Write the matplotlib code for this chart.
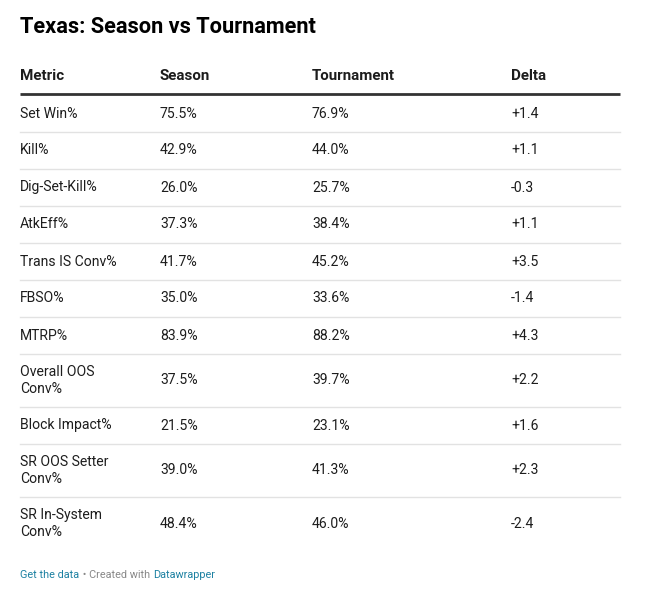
import matplotlib
matplotlib.use("Agg")
import matplotlib.pyplot as plt

title = "Texas: Season vs Tournament"
columns = ["Metric", "Season", "Tournament", "Delta"]
metrics = ["Set Win%", "Kill%", "Dig-Set-Kill%", "AtkEff%", "Trans IS Conv%", "FBSO%",
           "MTRP%", "Overall OOS\nConv%", "Block Impact%", "SR OOS Setter\nConv%",
           "SR In-System\nConv%"]
season = [75.5, 42.9, 26.0, 37.3, 41.7, 35.0, 83.9, 37.5, 21.5, 39.0, 48.4]
tournament = [76.9, 44.0, 25.7, 38.4, 45.2, 33.6, 88.2, 39.7, 23.1, 41.3, 46.0]
delta = [1.4, 1.1, -0.3, 1.1, 3.5, -1.4, 4.3, 2.2, 1.6, 2.3, -2.4]

W, H = 647, 604
fig = plt.figure(figsize=(W / 100, H / 100), dpi=100)
ax = fig.add_axes([0, 0, 1, 1])
ax.set_xlim(0, W)
ax.set_ylim(H, 0)
ax.axis("off")

FONT = ["Roboto", "DejaVu Sans"]
col_x = [20, 160, 312, 511]
left, right = 20, 620
fs = 10.1
hfs = 10.9

ax.text(20, 27, title, fontsize=15.7, fontweight="bold", family=FONT,
        va="center", ha="left", color="#000000")

for x, c in zip(col_x, columns):
    ax.text(x, 76, c, fontsize=hfs, fontweight="bold", family=FONT,
            va="center", ha="left", color="#1d1d1d")
ax.plot([left, right], [94, 94], color="#333333", lw=2.0, solid_capstyle="butt")

y = 95
for i, m in enumerate(metrics):
    nlines = m.count("\n") + 1
    h = 37 if nlines == 1 else 53
    yc = y + h / 2
    vals = [m, f"{season[i]:.1f}%", f"{tournament[i]:.1f}%", f"{delta[i]:+.1f}"]
    for x, v in zip(col_x, vals):
        ax.text(x, yc, v, fontsize=fs, family=FONT, va="center", ha="left",
                color="#1d1d1d", linespacing=1.25)
    y += h
    if i < len(metrics) - 1:
        ax.plot([left, right], [y - 0.5, y - 0.5], color="#e2e2e2", lw=1.0)

fy = 575
ffs = 7.8
t1 = ax.text(20, fy, "Get the data", fontsize=ffs, family=FONT, color="#1d81a2",
             va="center", ha="left")
fig.canvas.draw()
r = fig.canvas.get_renderer()
bb = t1.get_window_extent(r)
x2 = bb.x1 + 1
t2 = ax.text(x2, fy, " \u2022 Created with ", fontsize=ffs, family=FONT, color="#888888",
             va="center", ha="left")
bb2 = t2.get_window_extent(r)
ax.text(bb2.x1, fy, "Datawrapper", fontsize=ffs, family=FONT, color="#1d81a2",
        va="center", ha="left")

fig.savefig("out.png", dpi=100, facecolor="white")
